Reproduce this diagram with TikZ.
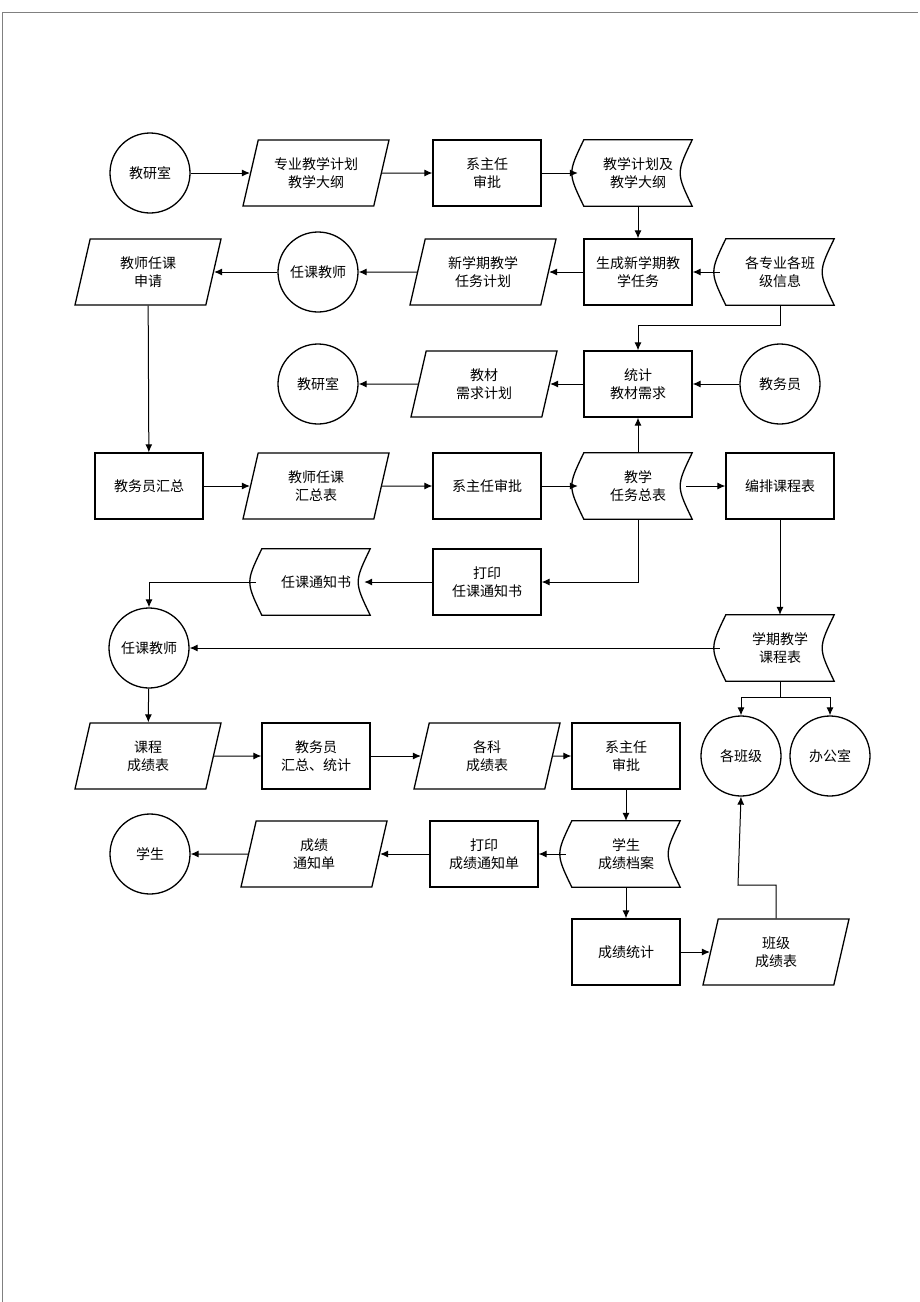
\documentclass[tikz,border=0pt]{standalone}
\usepackage{fontspec}
\setmainfont{Noto Sans CJK SC}
\usetikzlibrary{shapes.geometric, arrows.meta}

\begin{document}
\begin{tikzpicture}[
    x=1pt, y=-1pt,
    font=\fontsize{14}{18}\selectfont,
    % Define the style for the boxes
    proc/.style={
        rectangle,
        draw=black,
        line width=1.3pt,
        align=center,
        minimum width=108pt,
        minimum height=66pt
    },
    io/.style={
        trapezium,
        trapezium left angle=68,
        trapezium right angle=112,
        trapezium stretches body,
        draw=black,
        line width=1.3pt,
        align=center,
        minimum width=146pt,
        minimum height=66pt
    },
    store/.style={
        rectangle,
        align=center,
        minimum width=108pt,
        minimum height=66pt
    },
    actor/.style={
        circle,
        draw=black,
        line width=1.3pt,
        minimum size=80pt
    },
    % Define style for arrows
    arrow/.style={
        -{Latex[length=8pt,width=7pt]},
        line width=1pt
    }
]
\useasboundingbox (0,0) rectangle (920,1302);
\draw[gray, line width=1pt] (2,12) -- (918,12);
\draw[gray, line width=1pt] (2,12) -- (2,1302);

% 1. first row
\node (jys1) [actor] at (150,173) {教研室};
\node (plan) [io] at (316,173) {专业教学计划\\教学大纲};
\node (xzr1) [proc] at (487,173) {系主任\\审批};
\node (jxjh) [store] at (638,173) {教学计划及\\教学大纲};

% 2. second row
\node (rksq) [io] at (148,272) {教师任课\\申请};
\node (rkjs1) [actor] at (318,272) {任课教师};
\node (xxq) [io] at (483,272) {新学期教学\\任务计划};
\node (scrw) [proc] at (638,272) {生成新学期教\\学任务};
\node (bjxx) [store] at (780,272) {各专业各班\\级信息};

% 3. third row
\node (jys2) [actor] at (318,384) {教研室};
\node (jcjh) [io] at (484,384) {教材\\需求计划};
\node (tjjc) [proc] at (638,384) {统计\\教材需求};
\node (jwy) [actor] at (780,384) {教务员};

% 4. fourth row
\node (jwhz) [proc] at (149,486) {教务员汇总};
\node (rkhz) [io] at (316,486) {教师任课\\汇总表};
\node (xzr2) [proc] at (487,486) {系主任审批};
\node (rwzb) [store] at (638,486) {教学\\任务总表};
\node (bpkc) [proc] at (780,486) {编排课程表};

% 5. fifth row
\node (dytz) [proc] at (487,582) {打印\\任课通知书};
\node (tzs) [store] at (316,582) {任课通知书};

% 6. sixth row
\node (rkjs2) [actor] at (149,648) {任课教师};
\node (kcb) [store] at (780,648) {学期教学\\课程表};
\node (gbj) [actor] at (741,756) {各班级};
\node (bgs) [actor] at (830,756) {办公室};

% 7. seventh row
\node (kccj) [io] at (148,756) {课程\\成绩表};
\node (jwtj) [proc] at (316,756) {教务员\\汇总、统计};
\node (gkcj) [io] at (487,756) {各科\\成绩表};
\node (xzr3) [proc] at (626,756) {系主任\\审批};

% 8. eighth row
\node (xs) [actor] at (150,854) {学生};
\node (cjtz) [io] at (314,854) {成绩\\通知单};
\node (dycj) [proc] at (484,854) {打印\\成绩通知单};
\node (cjda) [store] at (626,854) {学生\\成绩档案};

% 9. last row
\node (cjtj) [proc] at (626,952) {成绩统计};
\node (bjcj) [io] at (776,952) {班级\\成绩表};

% stored data outlines
\foreach \n in {jxjh, bjxx, rwzb, tzs, kcb, cjda}
    \draw[line width=1.3pt] (\n.north west) .. controls ([xshift=-16pt]\n.west) .. (\n.south west)
        -- (\n.south east) .. controls ([xshift=-16pt]\n.east) .. (\n.north east) -- cycle;

% Draw arrows to show the flow
\draw [arrow] (jys1) -- (plan);
\draw [arrow] (plan) -- (xzr1);
\draw [arrow] (xzr1) -- ([xshift=-6pt]jxjh.west);
\draw [arrow] (jxjh) -- (scrw);
\draw [arrow] ([xshift=-6pt]bjxx.west) -- (scrw);
\draw [arrow] (scrw) -- (xxq);
\draw [arrow] (xxq) -- (rkjs1);
\draw [arrow] (rkjs1) -- (rksq);
\draw [arrow] (bjxx.south) |- (638,325) -- (tjjc.north);
\draw [arrow] (jwy) -- (tjjc);
\draw [arrow] (tjjc) -- (jcjh);
\draw [arrow] (jcjh) -- (jys2);
\draw [arrow] (rksq) -- (jwhz);
\draw [arrow] (jwhz) -- (rkhz);
\draw [arrow] (rkhz) -- (xzr2);
\draw [arrow] (xzr2) -- ([xshift=-6pt]rwzb.west);
\draw [arrow] (rwzb) -- (tjjc);
\draw [arrow] ([xshift=-6pt]rwzb.east) -- (bpkc);
\draw [arrow] (rwzb.south) |- (dytz.east);
\draw [arrow] (dytz) -- ([xshift=-6pt]tzs.east);
\draw [arrow] ([xshift=-6pt]tzs.west) -| (rkjs2.north);
\draw [arrow] (bpkc) -- (kcb);
\draw [arrow] ([xshift=-6pt]kcb.west) -- (rkjs2);
\draw [arrow] (kcb.south) -- (780,697) -| (gbj.north);
\draw [arrow] (780,697) -| (bgs.north);
\draw [arrow] (rkjs2) -- (kccj);
\draw [arrow] (kccj) -- (jwtj);
\draw [arrow] (jwtj) -- (gkcj);
\draw [arrow] (gkcj) -- (xzr3);
\draw [arrow] (xzr3) -- (cjda);
\draw [arrow] ([xshift=-6pt]cjda.west) -- (dycj);
\draw [arrow] (dycj) -- (cjtz);
\draw [arrow] (cjtz) -- (xs);
\draw [arrow] (cjda) -- (cjtj);
\draw [arrow] (cjtj) -- (bjcj);
\draw [arrow] (bjcj.north) |- (738,885) -- (gbj.south);

\end{tikzpicture}
\end{document}
